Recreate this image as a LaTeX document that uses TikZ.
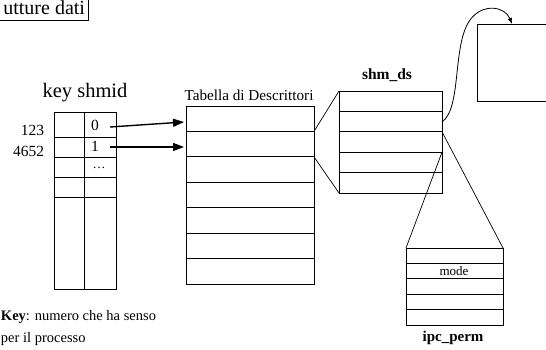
\documentclass[tikz,border=0pt]{standalone}
\usepackage{fontspec}
\setmainfont{Liberation Serif}
\usetikzlibrary{arrows.meta}
\newcommand{\fsz}[1]{\fontsize{#1}{#1}\selectfont}
\begin{document}
\begin{tikzpicture}[x=1pt,y=-1pt, line width=0.9pt,
  lbl/.style={inner sep=0pt, outer sep=0pt},
  ptr/.style={-{Triangle[length=11pt,width=8pt]}, line width=1.4pt},
  fan/.style={line width=0.7pt},
  curvedptr/.style={-{Latex[length=6pt,width=4.5pt]}, line width=0.8pt}]
\useasboundingbox (0,0) rectangle (546,349);

% title box
\draw (-5,-2) rectangle (88,20);
\node[lbl, anchor=base east, font=\fsz{20}] (title) at (85,14.5) {utture dati};

% key / shmid table
\coordinate (k-tl) at (54,112);
\coordinate (k-br) at (116,289);
\draw (k-tl) rectangle (k-br);
\draw (84,112) -- (84,289);
\foreach \y in {137,157,177,197} \draw (54,\y) -- (116,\y);
\node[lbl, font=\fsz{20.5}] (keyshmid) at (85,93) {key shmid};
\node[lbl, anchor=east, font=\fsz{15.5}] (n123) at (44,130) {123};
\node[lbl, anchor=east, font=\fsz{15.5}] (n4652) at (44,151) {4652};
\node[lbl, font=\fsz{15.5}] (v0) at (95,125) {0};
\node[lbl, font=\fsz{15.5}] (v1) at (95,146) {1};
\node[lbl, font=\fsz{13}] (vdots) at (99,168) {\dots};

% Tabella di Descrittori
\draw (186,106) rectangle (314,284);
\foreach \i in {1,...,6} \draw (186,106+25.43*\i) -- (314,106+25.43*\i);
\node[lbl, font=\fsz{15.2}] (tabtitle) at (249,95) {Tabella di Descrittori};
\coordinate (a0s) at (110,127);
\coordinate (a0e) at (184,122);
\coordinate (a1s) at (110,147);
\coordinate (a1e) at (184,147);
\draw[ptr] (a0s) -- (a0e);
\draw[ptr] (a1s) -- (a1e);

% shm_ds
\draw (339,91) rectangle (442,193);
\foreach \i in {1,...,4} \draw (339,91+20.4*\i) -- (442,91+20.4*\i);
\node[lbl, font=\bfseries\fsz{15.5}] (shmds) at (387,75) {shm\_ds};
\coordinate (t-r1) at (314,131.4);
\coordinate (t-r2) at (314,156.9);
\coordinate (s-tl) at (339,91);
\coordinate (s-bl) at (339,193);
\draw[fan] (t-r1) -- (s-tl);
\draw[fan] (t-r2) -- (s-bl);

% memory box
\coordinate (m-tl) at (477,24);
\draw (546,24) -- (m-tl) -- (477,101) -- (546,101);
\coordinate (c-s) at (442,122);
\coordinate (c-e) at (512,24);
\draw[curvedptr] (c-s) .. controls (462,108) and (452,45) .. (470,20)
  .. controls (482,3) and (505,6) .. (c-e);

% ipc_perm
\draw (406,248) rectangle (503,325);
\foreach \i in {1,...,4} \draw (406,248+15.4*\i) -- (503,248+15.4*\i);
\node[lbl, font=\fsz{13}] (mode) at (454,271.5) {mode};
\node[lbl, font=\bfseries\fsz{15}] (ipcperm) at (453,338) {ipc\_perm};
\coordinate (s-r2) at (442,131.8);
\coordinate (s-r3) at (442,152.2);
\coordinate (p-tl) at (406,248);
\coordinate (p-tr) at (503,248);
\draw[fan] (s-r2) -- (p-tr);
\draw[fan] (s-r3) -- (p-tl);

% key note
\node[lbl, anchor=base west, font=\fsz{14.5}] (key1) at (1,320) {\textbf{Key}: numero che ha senso};
\node[lbl, anchor=base west, font=\fsz{14.5}] (key2) at (1,342) {per il processo};
\end{tikzpicture}
\end{document}
